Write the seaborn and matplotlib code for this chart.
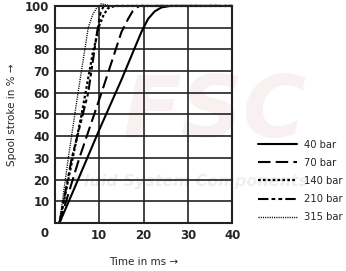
import numpy as np
import pandas as pd
import matplotlib
matplotlib.use("Agg")
import matplotlib.pyplot as plt
import seaborn as sns
from matplotlib.lines import Line2D

sns.set_theme(style="white")
plt.rcParams['font.family'] = ['DejaVu Sans']

pressures = ["40 bar", "70 bar", "140 bar", "210 bar", "315 bar"]
t_40 = [1, 5, 10, 15, 19.5, 21, 22.5, 24, 26, 40]
s_40 = [0, 19, 43, 66, 88, 94, 97.5, 99.3, 100, 100]
t_70 = [1, 5.5, 10.5, 15, 16.5, 17.5, 19, 40]
s_70 = [0, 30, 60, 88, 94, 97.5, 100, 100]
t_140 = [1, 4, 6, 8.5, 10, 11, 12, 13.5, 40]
s_140 = [0, 30, 50, 78, 91, 96, 99, 100, 100]
t_210 = [1, 3.8, 7.5, 9.5, 10.3, 11, 40]
s_210 = [0, 30, 60, 88, 97, 100, 100]
t_315 = [1, 3, 5.2, 7.5, 8.5, 9.5, 10.5, 11.5, 12.5, 40]
s_315 = [0, 30, 60, 90, 96, 99.5, 101, 100.5, 100, 100]

x_ticks = [10, 20, 30, 40]
y_ticks = [10, 20, 30, 40, 50, 60, 70, 80, 90, 100]

series = {"40 bar": (t_40, s_40), "70 bar": (t_70, s_70), "140 bar": (t_140, s_140),
          "210 bar": (t_210, s_210), "315 bar": (t_315, s_315)}
rows = []
for p, (tt, ss) in series.items():
    for a, b in zip(tt, ss):
        rows.append({"time": a, "stroke": b, "pressure": p})
df = pd.DataFrame(rows)

dashes = {"40 bar": "", "70 bar": (6, 2.5), "140 bar": (1.2, 1.0),
          "210 bar": (5, 1.5, 1.8, 1.5, 1.8, 1.5), "315 bar": (0.8, 0.8)}
widths = {"40 bar": 1.5, "70 bar": 1.5, "140 bar": 1.6, "210 bar": 1.5, "315 bar": 1.0}

fig = plt.figure(figsize=(3.46, 2.71), dpi=100)
ax = fig.add_axes([0.159, 0.177, 0.512, 0.801])
ax.set_facecolor('none')

# faint watermark
fig.text(0.62, 0.58, "FSC", fontsize=62, fontweight='bold', style='italic',
         color='#f9f1f1', ha='center', va='center', zorder=-5)
fig.text(0.55, 0.33, "Fluid System Components", fontsize=11.5, fontweight='bold', style='italic',
         color='#eeeeee', ha='center', va='center', zorder=-4)

sns.lineplot(data=df, x="time", y="stroke", hue="pressure", style="pressure",
             palette={p: "black" for p in pressures}, dashes=dashes,
             hue_order=pressures, style_order=pressures, sort=False,
             estimator=None, legend=False, ax=ax)
for line, p in zip(ax.get_lines(), pressures):
    line.set_linewidth(widths[p])
    line.set_clip_on(False)

ax.set_xlim(0, 40)
ax.set_ylim(0, 100)
ax.set_xticks([0] + x_ticks)
ax.set_xticklabels([""] + [str(v) for v in x_ticks])
ax.set_yticks(y_ticks)
ax.set_yticklabels([str(v) for v in y_ticks])
ax.tick_params(length=0, pad=4)
for lab in ax.get_xticklabels() + ax.get_yticklabels():
    lab.set_fontweight('bold')
    lab.set_fontsize(8.5)
ax.text(-1.5, -2, "0", transform=ax.transData, ha='right', va='top',
        fontsize=8.5, fontweight='bold', color='#222222')
ax.grid(True, color='#222222', linewidth=1.2)
for sp in ax.spines.values():
    sp.set_color('#222222')
    sp.set_linewidth(1.5)
ax.set_axisbelow(True)

ax.set_xlabel("Time in ms \u2192", fontsize=7.5, labelpad=11)
ax.set_ylabel("Spool stroke in % \u2192", fontsize=7.5, labelpad=6)

handles = []
for p in pressures:
    h = Line2D([], [], color='black', linewidth=widths[p], linestyle='-')
    if dashes[p]:
        h.set_dashes(dashes[p])
    handles.append(h)
leg = fig.legend(handles, pressures, loc='upper left', bbox_to_anchor=(0.735, 0.50),
                 frameon=False, fontsize=7.2, handlelength=3.9, handletextpad=0.7,
                 labelspacing=0.82, borderaxespad=0)

fig.savefig("out.png", dpi=100)
